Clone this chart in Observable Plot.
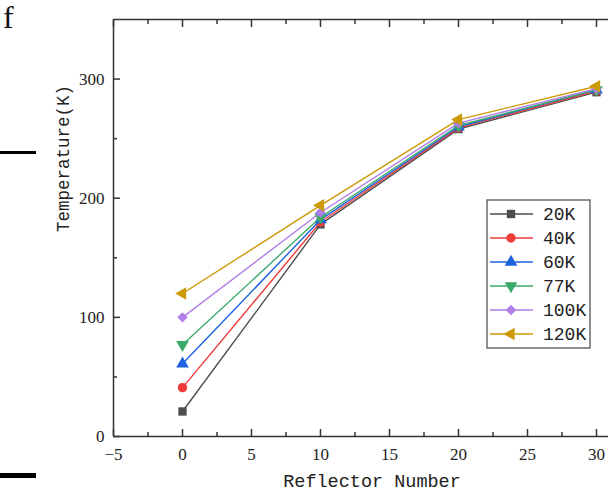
<!DOCTYPE html>
<html><head><meta charset="utf-8">
<script src="https://cdn.jsdelivr.net/npm/d3@7"></script>
<script src="https://cdn.jsdelivr.net/npm/@observablehq/plot@0.6"></script>
<style>
body{margin:0;background:#fff;overflow:hidden}
#wrap{position:relative;width:608px;height:491px;overflow:hidden}
#wrap svg.plot{position:absolute;left:0;top:0}
.fig{position:absolute;left:3px;top:4px;font-family:"Liberation Serif";font-size:32px;line-height:26px;color:#111}
.bar{position:absolute;left:0;width:36px;background:#000}
</style></head><body>
<div id="wrap">
  <div class="fig">f</div>
  <div class="bar" style="top:151px;height:3px"></div>
  <div class="bar" style="top:473px;height:5px"></div>
</div>
<script>
// ---- data ----
const reflector = [0, 10, 20, 30];
const seriesNames = ["20K", "40K", "60K", "77K", "100K", "120K"];
const t20K  = [21, 178, 258, 289];
const t40K  = [41, 180, 259, 290];
const t60K  = [61, 182, 260, 291];
const t77K  = [77, 184, 261, 291];
const t100K = [100, 188, 263, 292];
const t120K = [120, 194, 266, 294];
const seriesValues = [t20K, t40K, t60K, t77K, t100K, t120K];
const xTicks = [-5, 0, 5, 10, 15, 20, 25, 30];
const xMinorTicks = [-2.5, 2.5, 7.5, 12.5, 17.5, 22.5, 27.5];
const yTicks = [0, 100, 200, 300];
const yMinorTicks = [50, 150, 250];
const xLabel = "Reflector Number";
const yLabel = "Temperature(K)";
const colors = ["#4d4d4d", "#ef3b3b", "#1d63e0", "#3aaa6a", "#b07ee8", "#cc9a06"];

// custom symbols
const sqrt3 = Math.sqrt(3);
const triangleDown = {draw(ctx, size) {
  const y = -Math.sqrt(size / (sqrt3 * 3));
  ctx.moveTo(0, -y * 2); ctx.lineTo(-sqrt3 * y, y); ctx.lineTo(sqrt3 * y, y); ctx.closePath();
}};
const triangleLeft = {draw(ctx, size) {
  const y = -Math.sqrt(size / (sqrt3 * 3));
  ctx.moveTo(y * 2, 0); ctx.lineTo(-y, -sqrt3 * y); ctx.lineTo(-y, sqrt3 * y); ctx.closePath();
}};
const symbols = [d3.symbolSquare, d3.symbolCircle, d3.symbolTriangle, triangleDown, d3.symbolDiamond2, triangleLeft];
const R = 4.7;

const seriesData = seriesNames.map((s, i) => reflector.map((x, j) => ({series: s, x, y: seriesValues[i][j]})));

const axisColor = "#333";
const textColor = "#222";
const fmt = d => d < 0 ? "\u2212" + Math.abs(d) : String(d);

const marks = [
  Plot.ruleY([0, 350], {stroke: axisColor, strokeWidth: 1.5}),
  Plot.ruleX([-5], {stroke: axisColor, strokeWidth: 1.5}),
  // ticks (inward)
  Plot.axisX({anchor: "bottom", ticks: xTicks, tickSize: -7, fill: "none", stroke: axisColor, strokeWidth: 1.5, label: null}),
  Plot.axisX({anchor: "bottom", ticks: xMinorTicks, tickSize: -4, fill: "none", stroke: axisColor, strokeWidth: 1.5, label: null}),
  Plot.axisX({anchor: "top", ticks: xTicks, tickSize: -7, fill: "none", stroke: axisColor, strokeWidth: 1.5, label: null}),
  Plot.axisX({anchor: "top", ticks: xMinorTicks, tickSize: -4, fill: "none", stroke: axisColor, strokeWidth: 1.5, label: null}),
  Plot.axisY({anchor: "left", ticks: yTicks, tickSize: -7, fill: "none", stroke: axisColor, strokeWidth: 1.5, label: null}),
  Plot.axisY({anchor: "left", ticks: yMinorTicks, tickSize: -4, fill: "none", stroke: axisColor, strokeWidth: 1.5, label: null}),
  // tick labels
  Plot.axisX({anchor: "bottom", ticks: xTicks, tickSize: 0, tickPadding: 11, tickFormat: fmt, label: null,
    fill: textColor, fontFamily: "Liberation Serif", fontSize: 17}),
  Plot.axisY({anchor: "left", ticks: yTicks, tickSize: 0, tickPadding: 9, tickFormat: fmt, label: null,
    fill: textColor, fontFamily: "Liberation Serif", fontSize: 17}),
  // axis titles
  Plot.text([xLabel], {frameAnchor: "bottom", dy: 50, dx: 11, text: d => d, fontFamily: "Liberation Mono", fontSize: 18.5, fill: textColor}),
  Plot.text([yLabel], {frameAnchor: "left", dx: -50, dy: 4, rotate: -90, text: d => d, fontFamily: "Liberation Mono", fontSize: 17.5, fill: textColor})
];
seriesData.forEach((rows, i) => {
  marks.push(Plot.line(rows, {x: "x", y: "y", stroke: colors[i], strokeWidth: 1.4}));
  marks.push(Plot.dot(rows, {x: "x", y: "y", fill: colors[i], symbol: symbols[i], r: R, stroke: "none"}));
});

const chart = Plot.plot({
  width: 608, height: 491,
  marginLeft: 113, marginRight: 0, marginTop: 19, marginBottom: 55,
  x: {domain: [-5, 30.87]},
  y: {domain: [0, 350]},
  style: {background: "transparent", color: axisColor, overflow: "visible"},
  marks
});
document.getElementById("wrap").appendChild(chart);

// ---- legend ----
const lg = d3.select("#wrap").append("svg")
  .attr("width", 105).attr("height", 150)
  .style("position", "absolute").style("left", "486px").style("top", "199px");
lg.append("rect").attr("x", 1).attr("y", 1).attr("width", 103).attr("height", 148)
  .attr("fill", "white").attr("stroke", "#555").attr("stroke-width", 1.3);
seriesNames.forEach((s, i) => {
  const cy = 15 + i * 24;
  const g = lg.append("g");
  g.append("line").attr("x1", 4).attr("x2", 47).attr("y1", cy).attr("y2", cy)
    .attr("stroke", colors[i]).attr("stroke-width", 1.4);
  g.append("path").attr("d", d3.symbol().type(symbols[i]).size(Math.PI * R * R)())
    .attr("transform", `translate(25,${cy})`).attr("fill", colors[i]);
  g.append("text").attr("x", 57).attr("y", cy).attr("dy", "0.35em")
    .attr("font-family", "Liberation Mono").attr("font-size", 18).attr("fill", "#222").text(s);
});
</script>
</body></html>
